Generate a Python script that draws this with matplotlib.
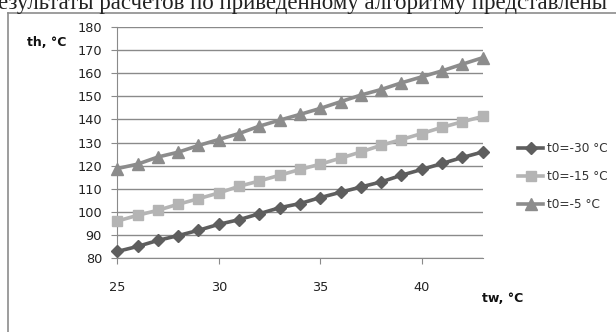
import matplotlib
matplotlib.use("Agg")
import matplotlib.pyplot as plt
from matplotlib.lines import Line2D

tw = [25, 26, 27, 28, 29, 30, 31, 32, 33, 34, 35, 36, 37, 38, 39, 40, 41, 42, 43]
th_m30 = [82.7, 84.9, 87.5, 89.6, 91.9, 94.5, 96.5, 99.1, 101.7, 103.5, 106.1,
          108.4, 110.7, 112.9, 115.8, 118.3, 120.9, 123.5, 125.9]
th_m15 = [95.9, 98.4, 100.6, 103.2, 105.6, 108.1, 111.0, 113.3, 115.8, 118.3, 120.6,
          123.2, 125.9, 128.8, 131.3, 133.9, 136.6, 139.0, 141.3]
th_m5 = [118.7, 120.6, 123.7, 125.8, 128.7, 131.3, 133.9, 137.1, 139.7, 142.2, 144.8,
         147.7, 150.6, 153.0, 155.9, 158.5, 161.1, 164.0, 166.8]
labels = ["t0=-30 °C", "t0=-15 °C", "t0=-5 °C"]
yticks = [80, 90, 100, 110, 120, 130, 140, 150, 160, 170, 180]
xticks = [25, 30, 35, 40]
top_text = "езультаты расчетов по приведенному алгоритму представлены"

fig = plt.figure(figsize=(6.16, 3.32), dpi=100)
fig.patch.set_facecolor("white")

# header text (cropped at top as in the source page)
fig.text(-0.003, 1.0 - 9.5 / 332, top_text, family="Liberation Serif", fontsize=16.5,
         color="#222222", ha="left", va="baseline")

# outer chart border
fig.add_artist(Line2D([8 / 616, 1.0], [1 - 12.5 / 332, 1 - 12.5 / 332],
                      transform=fig.transFigure, color="#8c8c8c", lw=1.2))
fig.add_artist(Line2D([8 / 616, 8 / 616], [0, 1 - 12.5 / 332],
                      transform=fig.transFigure, color="#8c8c8c", lw=1.2))

ax = fig.add_axes([117.3 / 616, 1 - 257.7 / 332, (482.7 - 117.3) / 616, (257.7 - 27.3) / 332])
ax.set_xlim(25, 43)
ax.set_ylim(80, 180)
ax.set_yticks(yticks)
ax.set_xticks(xticks)
ax.grid(axis="y", color="#8a8a8a", lw=1.0)
ax.set_axisbelow(True)
for s in ["top", "right"]:
    ax.spines[s].set_visible(False)
ax.spines["left"].set_color("#8a8a8a")
ax.spines["bottom"].set_color("#8a8a8a")
ax.tick_params(axis="y", direction="out", length=4, color="#8a8a8a", labelsize=9.3,
               labelcolor="#222222", pad=7)
ax.tick_params(axis="x", direction="out", length=4, color="#8a8a8a", labelsize=9.3,
               labelcolor="#222222", pad=13)

ax.plot(tw, th_m30, color="#5e5e5e", lw=2.6, marker="D", ms=6.5, label=labels[0], clip_on=False, zorder=3)
ax.plot(tw, th_m15, color="#b4b4b4", lw=2.6, marker="s", ms=7.5, label=labels[1], clip_on=False, zorder=3)
ax.plot(tw, th_m5, color="#8c8c8c", lw=2.6, marker="^", ms=8, label=labels[2], clip_on=False, zorder=3)

fig.text(27 / 616, 1 - 42 / 332, "th, °C", fontsize=9, fontweight="bold", color="#111111",
         ha="left", va="center")
fig.text(482 / 616, 1 - 298 / 332, "tw, °C", fontsize=9, fontweight="bold", color="#111111",
         ha="left", va="center")

leg = fig.legend(loc="upper left", bbox_to_anchor=(518 / 616, 1 - 142 / 332), frameon=False,
                 fontsize=8.7, handlelength=2.1, handletextpad=0.3, labelspacing=1.25,
                 borderaxespad=0, borderpad=0)
for t in leg.get_texts():
    t.set_color("#333333")

fig.savefig("out.png", dpi=100)
